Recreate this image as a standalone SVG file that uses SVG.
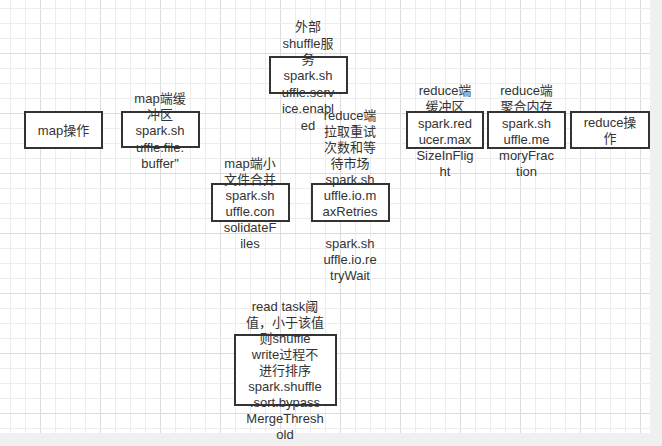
<svg xmlns="http://www.w3.org/2000/svg" width="662" height="446" viewBox="0 0 662 446">
<defs>
<pattern id="grid" patternUnits="userSpaceOnUse" x="10" y="8" width="60" height="60">
<rect x="0" y="0" width="60" height="60" fill="#ffffff"/>
<rect x="0" y="0" width="1" height="60" fill="#ececec"/>
<rect x="15" y="0" width="1" height="60" fill="#ececec"/>
<rect x="30" y="0" width="1" height="60" fill="#dcdcdc"/>
<rect x="45" y="0" width="1" height="60" fill="#ececec"/>
<rect x="0" y="0" width="60" height="1" fill="#ececec"/>
<rect x="0" y="15" width="60" height="1" fill="#ececec"/>
<rect x="0" y="30" width="60" height="1" fill="#ececec"/>
<rect x="0" y="45" width="60" height="1" fill="#dcdcdc"/>
</pattern>
<style>
.box{fill:#ffffff;stroke:#333333;stroke-width:2}
.t{font-family:"Liberation Sans","Noto Sans CJK SC",sans-serif;font-size:13px;fill:#333333;text-anchor:middle}
</style>
</defs>
<rect x="0" y="0" width="662" height="446" fill="#f0f0f0"/>
<rect x="0" y="0" width="650" height="433" fill="url(#grid)"/>
<g id="connectors"></g>
<g id="node-map-op">
<rect class="box" x="25" y="112" width="77" height="36"/>
<text class="t" x="63.5" y="134.5">map操作</text>
</g>
<g id="node-map-buffer">
<rect class="box" x="122" y="112" width="77" height="35"/>
<text class="t"><tspan x="160" y="103">map端缓</tspan><tspan x="160" y="119">冲区</tspan><tspan x="160" y="135">spark.sh</tspan><tspan x="160" y="151.5">uffle.file.</tspan><tspan x="160" y="167.5">buffer"</tspan></text>
</g>
<g id="node-external-shuffle">
<rect class="box" x="270" y="57" width="77" height="36"/>
<text class="t"><tspan x="308" y="31">外部</tspan><tspan x="308" y="47.5">shuffle服</tspan><tspan x="308" y="64">务</tspan><tspan x="308" y="80">spark.sh</tspan><tspan x="308" y="97">uffle.serv</tspan><tspan x="308" y="113">ice.enabl</tspan><tspan x="308" y="129.5">ed</tspan></text>
</g>
<g id="node-map-consolidate">
<rect class="box" x="212" y="184" width="77" height="37"/>
<text class="t"><tspan x="250" y="168">map端小</tspan><tspan x="250" y="184">文件合并</tspan><tspan x="250" y="200">spark.sh</tspan><tspan x="250" y="216">uffle.con</tspan><tspan x="250" y="232">solidateF</tspan><tspan x="250" y="248">iles</tspan></text>
</g>
<g id="node-reduce-retry">
<rect class="box" x="312" y="184" width="77" height="37"/>
<text class="t"><tspan x="350" y="120">reduce端</tspan><tspan x="350" y="136">拉取重试</tspan><tspan x="350" y="152">次数和等</tspan><tspan x="350" y="168">待市场</tspan><tspan x="350" y="184">spark.sh</tspan><tspan x="350" y="200">uffle.io.m</tspan><tspan x="350" y="216">axRetries</tspan><tspan x="350" y="248">spark.sh</tspan><tspan x="350" y="264">uffle.io.re</tspan><tspan x="350" y="280">tryWait</tspan></text>
</g>
<g id="node-reduce-buffer">
<rect class="box" x="407" y="112" width="76" height="36"/>
<text class="t"><tspan x="445" y="95">reduce端</tspan><tspan x="445" y="111">缓冲区</tspan><tspan x="445" y="128">spark.red</tspan><tspan x="445" y="144">ucer.max</tspan><tspan x="445" y="160">SizeInFlig</tspan><tspan x="445" y="176">ht</tspan></text>
</g>
<g id="node-reduce-memory">
<rect class="box" x="488" y="112" width="77" height="36"/>
<text class="t"><tspan x="526.5" y="95">reduce端</tspan><tspan x="526.5" y="111">聚合内存</tspan><tspan x="526.5" y="128">spark.sh</tspan><tspan x="526.5" y="144">uffle.me</tspan><tspan x="526.5" y="160">moryFrac</tspan><tspan x="526.5" y="176">tion</tspan></text>
</g>
<g id="node-reduce-op">
<rect class="box" x="571" y="112" width="78" height="36"/>
<text class="t"><tspan x="610" y="127">reduce操</tspan><tspan x="610" y="143">作</tspan></text>
</g>
<g id="node-bypass-threshold">
<rect class="box" x="235" y="335" width="101" height="70"/>
<text class="t"><tspan x="285" y="311">read task阈</tspan><tspan x="285" y="327">值，小于该值</tspan><tspan x="285" y="343">则shuffle</tspan><tspan x="285" y="359">write过程不</tspan><tspan x="285" y="375">进行排序</tspan><tspan x="285" y="391">spark.shuffle</tspan><tspan x="285" y="407">.sort.bypass</tspan><tspan x="285" y="423">MergeThresh</tspan><tspan x="285" y="439">old</tspan></text>
</g>
</svg>
